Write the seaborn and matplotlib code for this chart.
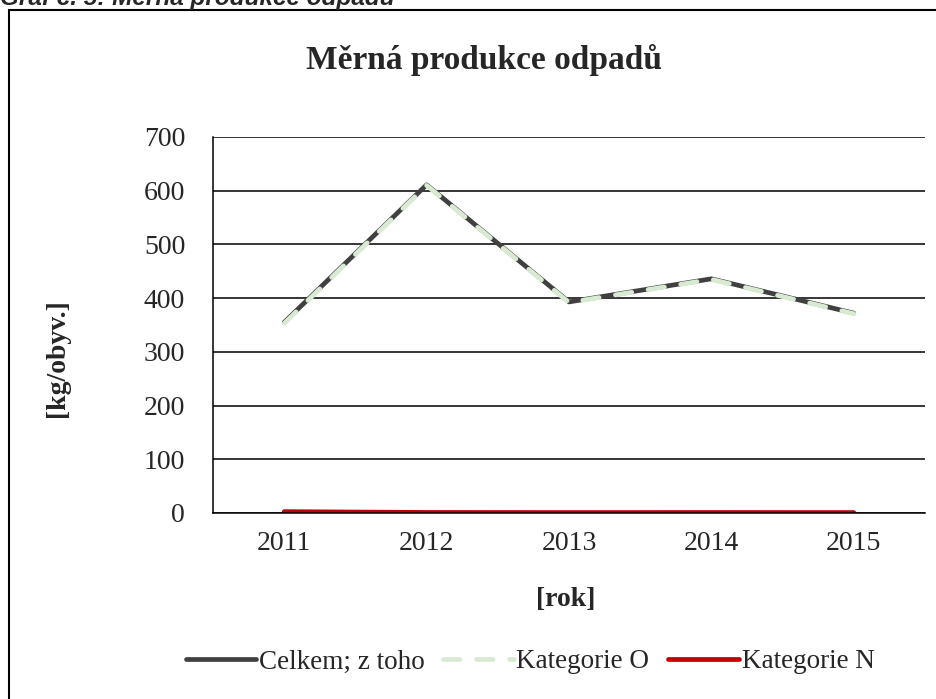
import pandas as pd
import seaborn as sns
import matplotlib.pyplot as plt
from matplotlib.patches import Rectangle

roky = ["2011", "2012", "2013", "2014", "2015"]
celkem = [355, 611, 393, 436, 372]
kategorie_o = [353, 610, 392, 435, 371]
kategorie_n = [2.5, 1.0, 0.8, 0.9, 0.8]

df = pd.DataFrame({"rok": roky, "celkem": celkem, "kat_o": kategorie_o, "kat_n": kategorie_n})

sns.set_style("white")
plt.rcParams['font.family'] = ['Liberation Serif', 'DejaVu Serif']

W, H = 936, 699
fig = plt.figure(figsize=(W / 100, H / 100), dpi=100)
ax = fig.add_axes([213/W, 1 - 513/H, 712/W, 376/H])

sns.lineplot(data=df, x="rok", y="celkem", ax=ax, color="#404040", linewidth=3.4,
             label="Celkem; z toho", sort=False)
sns.lineplot(data=df, x="rok", y="kat_o", ax=ax, color="#d9ead3", linewidth=3.4,
             label="Kategorie O", sort=False)
ax.lines[-1].set_dashes([3.5, 3.5])
ax.lines[-1].set_dash_capstyle("round")
sns.lineplot(data=df, x="rok", y="kat_n", ax=ax, color="#c00000", linewidth=3.4,
             label="Kategorie N", sort=False)
for ln in ax.lines:
    ln.set_solid_capstyle("round")
    ln.set_solid_joinstyle("round")

ax.set_xlim(-0.5, 4.5)
ax.set_ylim(0, 700)
ax.set_yticks(range(0, 701, 100))
ax.yaxis.grid(True, color="black", linewidth=1.1)
ax.set_axisbelow(True)
ax.set_xticks(range(5))
ax.set_xticklabels(roky)
ax.set_xticks([x - 0.5 for x in range(6)], minor=True)
ax.tick_params(axis="x", which="major", length=0, pad=13, labelsize=20)
ax.tick_params(axis="x", which="minor", length=9, width=1.1, direction="out", color="black")
ax.tick_params(axis="y", length=9, width=1.1, direction="out", labelsize=20, pad=11, color="black")

for s in ["top", "right"]:
    ax.spines[s].set_visible(False)
for s in ["left", "bottom"]:
    ax.spines[s].set_color("black")
    ax.spines[s].set_linewidth(1.1)

ax.set_xlabel("")
ax.set_ylabel("")
fig.text(566/W, 1 - 600/H, "[rok]", ha="center", va="center", fontsize=20, fontweight="bold")
fig.text(58/W, 1 - 358/H, "[kg/obyv.]", ha="center", va="center", rotation=90,
         fontsize=20, fontweight="bold")

fig.text(484/W, 1 - 60/H, "Měrná produkce odpadů", ha="center", va="center",
         fontsize=24, fontweight="bold")

fig.text(0/W, 1 - 5/H, "Graf č. 5: Měrná produkce odpadů", ha="left", va="baseline",
         fontsize=17.5, fontweight="bold", style="italic", family="Liberation Sans")

fig.patches.append(Rectangle((9/W, -0.01), 1.0, 1 - 10/H + 0.01, transform=fig.transFigure,
                             fill=False, edgecolor="black", linewidth=1.5))

ax.legend(loc="center", bbox_to_anchor=(530/W, 1 - 662/H), bbox_transform=fig.transFigure,
          ncol=3, frameon=False, fontsize=19.5, handlelength=2.6, handletextpad=0.1,
          columnspacing=0.7)

plt.savefig("out.png", dpi=100)
